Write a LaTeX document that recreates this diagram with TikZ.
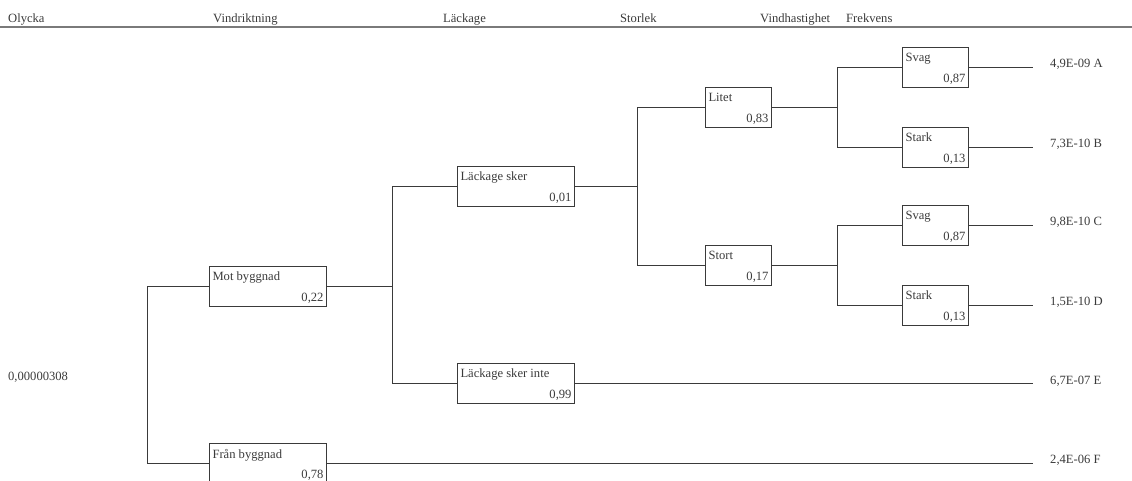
\documentclass[tikz,border=0pt]{standalone}
\usepackage{fontspec}
\setmainfont{Liberation Serif}
\definecolor{inkgray}{HTML}{3A3A3A}
\definecolor{rulegray}{HTML}{7A7A7A}
\tikzset{
  evtext/.style={text=inkgray, inner xsep=3pt, inner ysep=6pt},
  evbox/.style 2 args={draw=inkgray, minimum height=40pt, inner sep=0pt,
    label={[evtext, anchor=north west]north west:#1},
    label={[evtext, anchor=south east, inner ysep=3pt]south east:#2}},
  widebox/.style={minimum width=117pt},
  smallbox/.style={minimum width=66pt},
  branch/.style={draw=inkgray, line width=0.8pt},
  headtext/.style={text=inkgray, anchor=base west, inner sep=0pt},
  freqtext/.style={text=inkgray, anchor=base west, inner sep=0pt}
}
\begin{document}
\begin{tikzpicture}[x=1pt, y=-1pt, font=\fontsize{12.6}{14}\selectfont]
  \useasboundingbox (0,0) rectangle (1132,480);

  % ---- Rubriker ----
  \node[headtext] (hOlycka) at (8,22)   {Olycka};
  \node[headtext] (hVind)   at (213,22) {Vindriktning};
  \node[headtext] (hLack)   at (443,22) {Läckage};
  \node[headtext] (hStor)   at (620,22) {Storlek};
  \node[headtext] (hHast)   at (760,22) {Vindhastighet};
  \node[headtext] (hFrek)   at (846,22) {Frekvens};
  \draw[rulegray, line width=1.5pt] (0,27) -- (1132,27);

  % ---- Forgreningspunkter ----
  \coordinate (j1) at (147,0);
  \coordinate (j2) at (392,0);
  \coordinate (j3) at (637,0);
  \coordinate (j4) at (837,0);
  \coordinate (jend) at (1033,0);

  % ---- Startvarde ----
  \node[freqtext] (start) at (8,380) {0,00000308};

  % ---- Vindriktning ----
  \node[evbox={Mot byggnad}{0,22}, widebox]  (mot)  at (268,286) {};
  \node[evbox={Från byggnad}{0,78}, widebox] (fran) at (268,463) {};

  % ---- Lackage ----
  \node[evbox={Läckage sker}{0,01}, widebox]      (sker) at (516,186) {};
  \node[evbox={Läckage sker inte}{0,99}, widebox] (inte) at (516,383) {};

  % ---- Storlek ----
  \node[evbox={Litet}{0,83}, smallbox] (litet) at (738.5,107) {};
  \node[evbox={Stort}{0,17}, smallbox] (stort) at (738.5,265) {};

  % ---- Vindhastighet ----
  \node[evbox={Svag}{0,87}, smallbox]  (svagA)  at (935.5,67) {};
  \node[evbox={Stark}{0,13}, smallbox] (starkB) at (935.5,147) {};
  \node[evbox={Svag}{0,87}, smallbox]  (svagC)  at (935.5,225) {};
  \node[evbox={Stark}{0,13}, smallbox] (starkD) at (935.5,305) {};

  % ---- Frekvenser ----
  \node[freqtext] (fA) at (1050,67)  {4,9E-09 A};
  \node[freqtext] (fB) at (1050,147) {7,3E-10 B};
  \node[freqtext] (fC) at (1050,225) {9,8E-10 C};
  \node[freqtext] (fD) at (1050,305) {1,5E-10 D};
  \node[freqtext] (fE) at (1050,384) {6,7E-07 E};
  \node[freqtext] (fF) at (1050,463) {2,4E-06 F};

  % ---- Grenar ----
  \draw[branch] (mot.west) -- (mot.west -| j1) -- (fran.west -| j1) -- (fran.west);
  \draw[branch] (mot.east) -- (mot.east -| j2);
  \draw[branch] (sker.west) -- (sker.west -| j2) -- (inte.west -| j2) -- (inte.west);
  \draw[branch] (sker.east) -- (sker.east -| j3);
  \draw[branch] (litet.west) -- (litet.west -| j3) -- (stort.west -| j3) -- (stort.west);
  \draw[branch] (litet.east) -- (litet.east -| j4);
  \draw[branch] (svagA.west) -- (svagA.west -| j4) -- (starkB.west -| j4) -- (starkB.west);
  \draw[branch] (stort.east) -- (stort.east -| j4);
  \draw[branch] (svagC.west) -- (svagC.west -| j4) -- (starkD.west -| j4) -- (starkD.west);

  % ---- Grenar till frekvens ----
  \draw[branch] (svagA.east)  -- (svagA.east -| jend);
  \draw[branch] (starkB.east) -- (starkB.east -| jend);
  \draw[branch] (svagC.east)  -- (svagC.east -| jend);
  \draw[branch] (starkD.east) -- (starkD.east -| jend);
  \draw[branch] (inte.east)   -- (inte.east -| jend);
  \draw[branch] (fran.east)   -- (fran.east -| jend);
\end{tikzpicture}
\end{document}
